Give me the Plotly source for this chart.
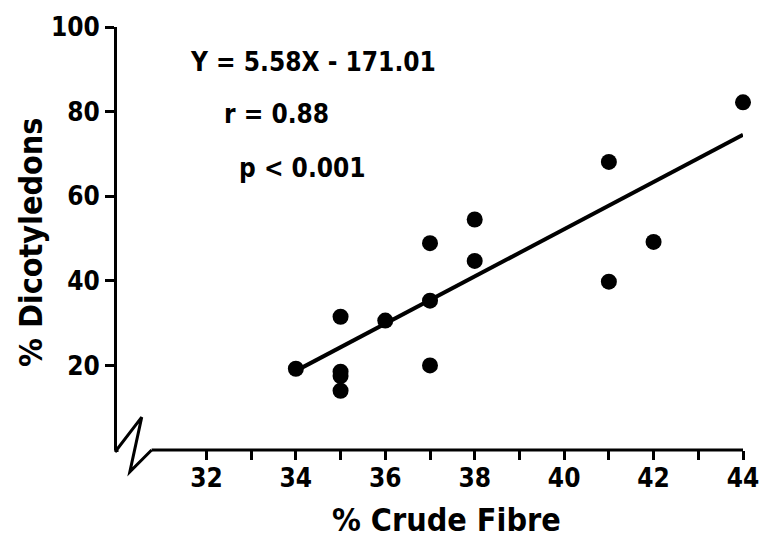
import plotly.graph_objects as go

# Data
crude_fibre = [34, 35, 35, 35, 35, 36, 37, 37, 37, 38, 38, 41, 41, 42, 44]
dicotyledons = [19.2, 31.5, 18.5, 17.5, 14.0, 30.6, 48.9, 35.3, 20.0, 54.5, 44.7, 68.1, 39.8, 49.2, 82.2]
slope, intercept = 5.58, -171.01
fit_x = [34, 44]
fit_y = [slope * v + intercept for v in fit_x]

x_tickvals = list(range(32, 45))
x_ticktext = [str(v) if v % 2 == 0 else "" for v in x_tickvals]
y_tickvals = [20, 40, 60, 80, 100]
y_ticktext = ["20", "40", "60", "80", "100"]

XMIN, XMAX = 30, 44
YMIN, YMAX = 0, 100
FONT = "DejaVu Sans Condensed, DejaVu Sans, sans-serif"

L, R, T, B = 117, 21, 25, 101
W, H = 771, 551
PW, PH = W - L - R, H - T - B

def px2paper(px, py):
    return (px - L) / PW, (H - B - py) / PH

fig = go.Figure()
fig.add_trace(go.Scatter(x=fit_x, y=fit_y, mode="lines",
                         line=dict(color="black", width=4), cliponaxis=False,
                         showlegend=False, hoverinfo="skip"))
fig.add_trace(go.Scatter(x=crude_fibre, y=dicotyledons, mode="markers",
                         marker=dict(color="black", size=16), cliponaxis=False,
                         showlegend=False))

# axis break zigzag + x-axis line (decoration, paper coords)
pts = [px2paper(115, 452), px2paper(142, 417), px2paper(130, 472), px2paper(152, 450)]
path = "M " + " L ".join(f"{x},{y}" for x, y in pts)
fig.add_shape(type="path", path=path, xref="paper", yref="paper",
              line=dict(color="black", width=3))
x_start = pts[-1][0]
fig.add_shape(type="line", xref="paper", yref="paper", x0=x_start, x1=1.0, y0=0, y1=0,
              line=dict(color="black", width=3))
fig.add_shape(type="line", xref="paper", yref="paper", x0=0, x1=0, y0=pts[0][1], y1=0,
              line=dict(color="black", width=3))

def ann(text, px, py, size=28, angle=0):
    x, y = px2paper(px, py)
    fig.add_annotation(text=text, x=x, y=y, xref="paper", yref="paper",
                       showarrow=False, textangle=angle,
                       font=dict(family=FONT, size=size, color="black", weight="bold"),
                       xanchor="center", yanchor="middle")

ann("Y = 5.58X - 171.01", 315, 60, size=26)
ann("r = 0.88", 278, 112, size=26)
ann("p < 0.001", 305, 167, size=26)
ann("% Dicotyledons", 30, 241, size=32, angle=-90)
ann("% Crude Fibre", 450, 520, size=32)

fig.update_layout(
    width=W, height=H,
    margin=dict(l=L, r=R, t=T, b=B, pad=0),
    paper_bgcolor="white", plot_bgcolor="white",
    font=dict(family=FONT, color="black"),
    xaxis=dict(range=[XMIN, XMAX], tickmode="array", tickvals=x_tickvals, ticktext=x_ticktext,
               ticks="outside", ticklen=9, tickwidth=3, tickcolor="black",
               ticklabelstandoff=-4,
               showline=False, showgrid=False, zeroline=False,
               tickfont=dict(family=FONT, size=26, color="black", weight="bold")),
    yaxis=dict(range=[YMIN, YMAX], tickmode="array", tickvals=y_tickvals, ticktext=y_ticktext,
               ticks="outside", ticklen=9, tickwidth=3, tickcolor="black",
               showline=True, linecolor="black", linewidth=3, mirror=False,
               showgrid=False, zeroline=False,
               tickfont=dict(family=FONT, size=26, color="black", weight="bold")),
)

fig.write_html("out.html")
